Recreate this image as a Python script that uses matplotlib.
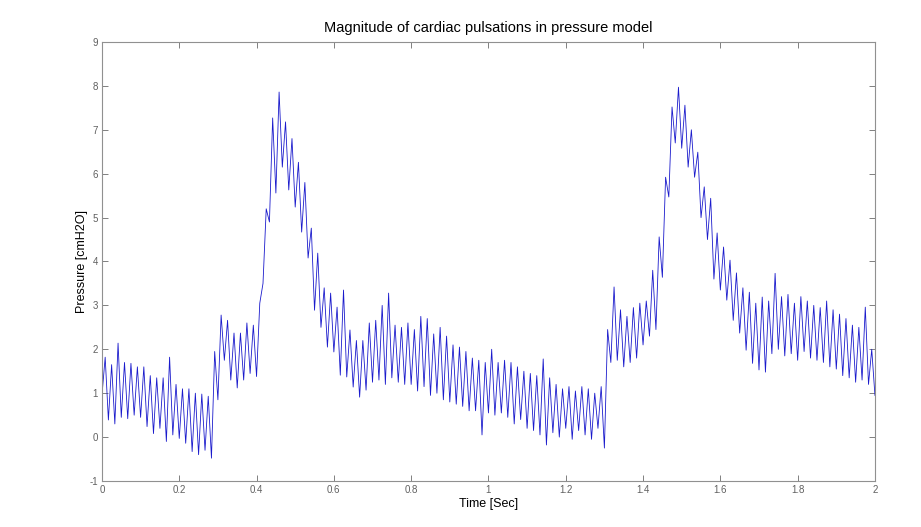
import numpy as np
import matplotlib
matplotlib.use("Agg")
import matplotlib.pyplot as plt

# pulse cycles, ~60 per second: trough then peak of each cycle
peaks = [1.82, 1.65, 2.14, 1.7, 1.68, 1.6, 1.6, 1.4, 1.35, 1.35, 1.82, 1.2, 1.1, 1.1, 1.0, 0.98, 0.93,
         1.95,
         2.78, 2.66, 2.37, 2.37, 2.6, 2.55, 3.05,
         5.2, 7.27, 7.86, 7.18, 6.8, 6.26, 5.8, 4.76, 4.19, 3.4, 3.28, 2.96, 3.35, 2.44, 2.2, 2.2,
         2.6, 2.66, 3.0, 3.28, 2.55, 2.5, 2.6,
         2.45, 2.75, 2.7, 2.35, 2.5, 2.3, 2.1, 2.05, 1.95, 1.8, 1.75, 1.7,
         2.0, 1.7, 1.75, 1.7, 1.6, 1.5, 1.45, 1.4, 1.78, 1.35,
         1.2, 1.1, 1.15, 1.05, 1.15, 1.1, 1.0, 1.15,
         2.45, 3.42, 2.9, 2.75, 2.95, 3.05, 3.1,
         3.8, 4.56, 5.92, 7.52, 7.97, 7.56, 7.0, 6.49, 5.7, 5.44, 4.65, 4.33, 4.03, 3.74, 3.4, 3.3,
         3.05, 3.19, 3.1,
         3.73, 3.2, 3.25, 3.05, 3.2, 3.1, 3.0, 2.95, 3.1, 2.9, 2.8, 2.7, 2.55, 2.5, 2.96, 2.0]
troughs = [0.95,
           0.39, 0.3, 0.45, 0.42, 0.5, 0.45, 0.24, 0.08, 0.2, -0.1, 0.05, -0.03, -0.14, -0.33, -0.4, -0.3,
           -0.48, 0.85,
           1.75, 1.3, 1.12, 1.3, 1.45, 1.38,
           3.5, 4.9, 5.56, 6.15, 5.63, 5.24, 4.67, 4.08, 2.89, 2.5, 2.05, 1.94, 1.41, 1.37, 1.14, 0.91,
           1.07, 1.25, 1.3, 1.2, 1.35, 1.25, 1.2,
           1.2, 1.05, 1.15, 0.95, 1.0, 0.85, 0.8, 0.75, 0.7, 0.6, 0.6, 0.05,
           0.55, 0.5, 0.55, 0.45, 0.3, 0.4, 0.2, 0.15, 0.05, -0.18,
           0.1, 0.0, 0.2, -0.05, 0.15, 0.05, -0.05, 0.2,
           -0.25, 1.7, 1.75, 1.6, 1.7, 1.8, 2.1,
           2.3, 2.45, 3.64, 5.47, 6.7, 6.58, 6.15, 5.92, 5.0, 4.5, 3.6, 3.35, 3.12, 2.66, 2.37, 1.98,
           1.68, 1.53, 1.48,
           1.9, 2.0, 1.85, 1.9, 1.75, 1.95, 1.8, 1.75, 1.7, 1.6, 1.55, 1.4, 1.35, 1.25, 1.3, 1.2]
end_value = 0.95
pulse_rate = 60.0  # cycles per second

xticks = [0, 0.2, 0.4, 0.6, 0.8, 1, 1.2, 1.4, 1.6, 1.8, 2]
xlabels = ["0", "0.2", "0.4", "0.6", "0.8", "1", "1.2", "1.4", "1.6", "1.8", "2"]
yticks = list(range(-1, 10))

k = np.arange(len(peaks))
t = np.empty(2 * len(peaks) + 1)
p = np.empty_like(t)
t[0:-1:2] = k / pulse_rate
t[1:-1:2] = k / pulse_rate + 0.5 / pulse_rate
t[-1] = 2.0
p[0:-1:2] = troughs
p[1:-1:2] = peaks
p[-1] = end_value

plt.rcParams['font.family'] = ['Liberation Sans', 'DejaVu Sans']
plt.rcParams['axes.unicode_minus'] = False
fig = plt.figure(figsize=(9.21, 5.27), dpi=100)
ax = fig.add_axes([0.1107, 0.0873, 0.8393, 0.833])
ax.plot(t, p, color="#1a1acc", linewidth=0.6)

ax.set_xlim(0, 2)
ax.set_ylim(-1, 9)
ax.set_xticks(xticks)
ax.set_xticklabels(xlabels)
ax.set_yticks(yticks)
ax.tick_params(direction="in", top=True, right=True, length=4, width=0.7,
               labelsize=7, colors="#808080", labelcolor="#606060", pad=3)
for s in ax.spines.values():
    s.set_color("#909090")
    s.set_linewidth(0.8)

ax.set_title("Magnitude of cardiac pulsations in pressure model", fontsize=10.5, pad=7)
ax.set_xlabel("Time [Sec]", fontsize=9, labelpad=2)
ax.set_ylabel("Pressure [cmH2O]", fontsize=9, labelpad=1)

fig.savefig("out.png", dpi=100)
